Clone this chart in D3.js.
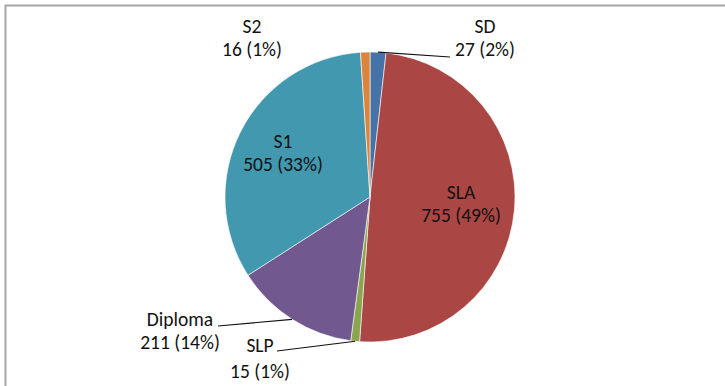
<!DOCTYPE html>
<html>
<head>
<meta charset="utf-8">
<script src="https://cdn.jsdelivr.net/npm/d3@7"></script>
<style>
  body { margin: 0; background: #fff; }
  svg { display: block; }
  text { font-family: Carlito, Calibri, "Open Sans", sans-serif; font-size: 19.5px; fill: #111; }
</style>
</head>
<body>
<svg id="chart"></svg>
<script>
// data
const categories = ['SD', 'SLA', 'SLP', 'Diploma', 'S1', 'S2'];
const counts = [27, 755, 15, 211, 505, 16];
const colors = ['#4572A7', '#AA4643', '#89A54E', '#71588F', '#4198AF', '#DB843D'];

// svg container
const w = 725, h = 386;
const cx = 370, cy = 197, r = 145;
const svg = d3.select('#chart').attr('width', w).attr('height', h);

// chart frame
svg.append('path')
  .attr('d', `M5.5,${h} V5.5 H${w}`)
  .attr('fill', 'none')
  .attr('stroke', '#a6a6a6')
  .attr('stroke-width', 2);

const total = d3.sum(counts);
const rows = categories.map((c, i) => ({ name: c, value: counts[i], color: colors[i] }));

const pie = d3.pie().value(d => d.value).sort(null);
const arc = d3.arc().innerRadius(0).outerRadius(r);
const edge = d3.arc().innerRadius(r).outerRadius(r);
const arcs = pie(rows);

const g = svg.append('g').attr('transform', `translate(${cx},${cy})`);

g.selectAll('.slice')
  .data(arcs)
  .join('path')
    .attr('class', 'slice')
    .attr('d', arc)
    .attr('fill', d => d.data.color)
    .attr('stroke', '#fff')
    .attr('stroke-width', 0.6);

// label placement (relative to pie centre), leader end point if outside
const labelPos = {
  'SD':      { x: 115, y: -164, leader: [80, -140] },
  'SLA':     { x: 91,  y: 2 },
  'SLP':     { x: -110, y: 155, leader: [-93, 154], split: 26 },
  'Diploma': { x: -190, y: 129, leader: [-152, 129] },
  'S1':      { x: -87, y: -49 },
  'S2':      { x: -118, y: -164 }
};

const pct = d3.format('.0%');

arcs.forEach(d => {
  const p = labelPos[d.data.name];
  const t = g.append('text')
    .attr('text-anchor', 'middle')
    .attr('x', p.x)
    .attr('y', p.y);
  t.append('tspan').attr('x', p.x).text(d.data.name);
  t.append('tspan').attr('x', p.x).attr('dy', p.split || 22.5)
    .text(`${d.data.value} (${pct(d.data.value / total)})`);

  if (p.leader) {
    const [sx, sy] = edge.centroid(d);
    g.append('polyline')
      .attr('points', `${sx},${sy} ${p.leader[0]},${p.leader[1]}`)
      .attr('fill', 'none')
      .attr('stroke', '#111')
      .attr('stroke-width', 1.2);
  }
});
</script>
</body>
</html>
